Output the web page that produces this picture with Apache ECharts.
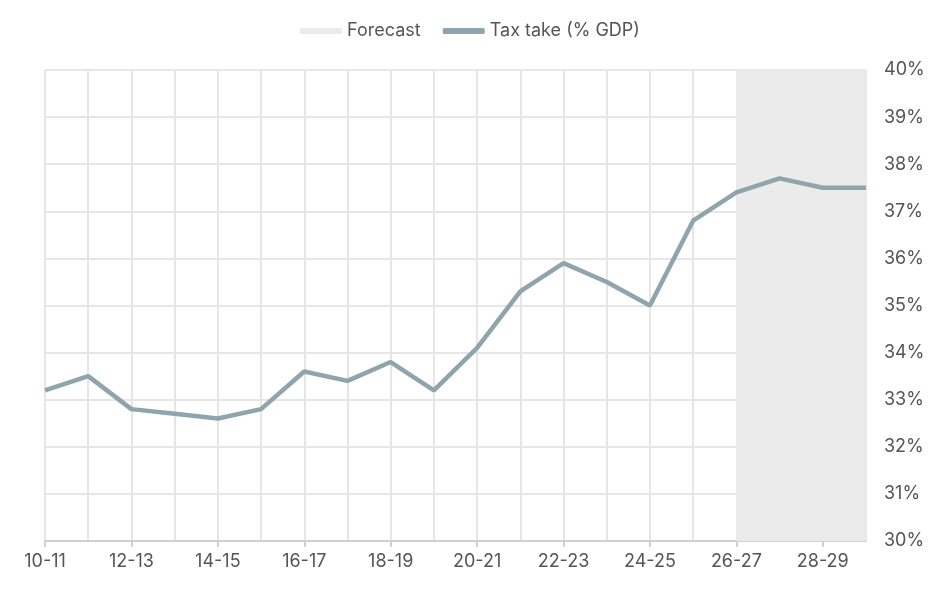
<!DOCTYPE html>
<html>
<head>
<meta charset="utf-8">
<script src="https://cdn.jsdelivr.net/npm/echarts@6/dist/echarts.min.js"></script>
<style>
  html, body { margin: 0; padding: 0; background: #fff; }
  #chart { width: 940px; height: 591px; }
</style>
</head>
<body>
<div id="chart"></div>
<script>
const years = ["10-11", "11-12", "12-13", "13-14", "14-15", "15-16", "16-17", "17-18", "18-19", "19-20",
  "20-21", "21-22", "22-23", "23-24", "24-25", "25-26", "26-27", "27-28", "28-29", "29-30"];
const taxTake = [33.2, 33.5, 32.8, 32.7, 32.6, 32.8, 33.6, 33.4, 33.8, 33.2,
  34.1, 35.3, 35.9, 35.5, 35.0, 36.8, 37.4, 37.7, 37.5, 37.5];
const forecastStart = "26-27";
const forecastEnd = "29-30";

const chart = echarts.init(document.getElementById("chart"));
const font = "Inter, 'Noto Sans', sans-serif";
const option = {
  animation: false,
  textStyle: { fontFamily: font },
  legend: {
    top: 17,
    left: "center",
    itemGap: 22,
    textStyle: { fontSize: 18, color: "#555", fontFamily: font },
    data: [
      { name: "Forecast", icon: "rect", itemStyle: { color: "#ebebeb" } },
      { name: "Tax take (% GDP)", icon: "roundRect", itemStyle: { color: "#90a4ae" } }
    ],
    itemWidth: 42,
    itemHeight: 6
  },
  grid: { left: 45, right: 74, top: 70, bottom: 50 },
  xAxis: {
    type: "category",
    data: years,
    boundaryGap: false,
    axisLine: { lineStyle: { color: "#d0d0d0", width: 2 } },
    axisTick: { interval: 1, length: 6, lineStyle: { color: "#d0d0d0", width: 2 } },
    axisLabel: { interval: 1, fontSize: 18, color: "#555", margin: 12 },
    splitLine: { show: true, interval: 0, lineStyle: { color: "#e6e6e6", width: 2 } }
  },
  yAxis: {
    type: "value",
    position: "right",
    min: 30,
    max: 40,
    interval: 1,
    axisLine: { show: false },
    axisTick: { show: false },
    axisLabel: { formatter: "{value}%", fontSize: 18, color: "#555", margin: 18 },
    splitLine: { lineStyle: { color: "#e6e6e6", width: 2 } }
  },
  series: [
    {
      name: "Forecast",
      type: "line",
      data: [],
      itemStyle: { color: "#ebebeb" },
      markArea: {
        silent: true,
        itemStyle: { color: "#ebebeb" },
        data: [[{ xAxis: forecastStart }, { xAxis: forecastEnd }]]
      }
    },
    {
      name: "Tax take (% GDP)",
      type: "line",
      data: taxTake,
      symbol: "none",
      lineStyle: { color: "#90a4ae", width: 4.5 },
      itemStyle: { color: "#90a4ae" },
      z: 3
    }
  ]
};
chart.setOption(option);
window.addEventListener("resize", chart.resize);
</script>
</body>
</html>
